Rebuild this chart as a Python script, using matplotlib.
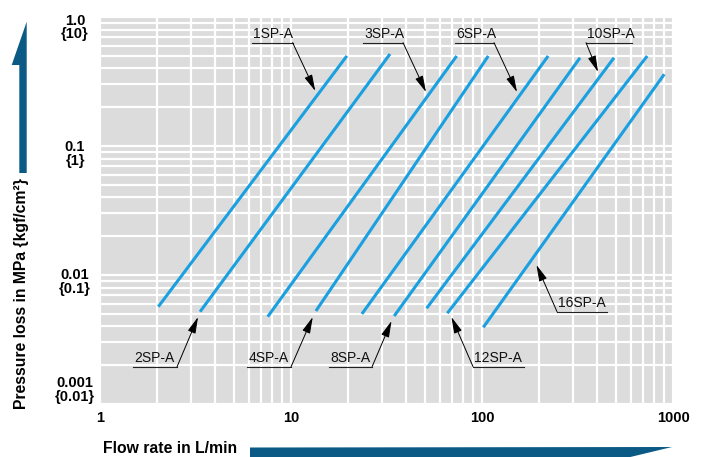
import matplotlib
matplotlib.use("Agg")
import matplotlib.pyplot as plt
from matplotlib.patches import Polygon

plt.rcParams["font.family"] = ["Liberation Sans", "DejaVu Sans"]

# strainer models, pressure loss lines (flow rate L/min vs pressure loss MPa)
models = ["1SP-A", "2SP-A", "3SP-A", "4SP-A", "6SP-A", "8SP-A", "10SP-A", "12SP-A", "16SP-A"]
q_min = [2.02, 3.34, 7.55, 13.5, 23.5, 34.7, 51.3, 65.8, 101.6]
q_max = [19.6, 33.0, 73.7, 107.9, 222, 326, 491, 733, 900]
p_min = [0.00568, 0.00519, 0.00475, 0.00526, 0.00499, 0.00481, 0.00552, 0.00505, 0.00393]
p_max = [0.499, 0.517, 0.499, 0.499, 0.499, 0.483, 0.483, 0.499, 0.36]

# callout labels: underline (leader end / far end), height, arrow tip on the line
label_lead_q = [10.2, 2.53, 38.6, 10.0, 115.6, 26.6, 350.5, 89.7, 247]
label_far_q = [6.25, 1.49, 23.8, 5.89, 72.2, 15.8, 610, 166, 451]
label_p = [0.632, 0.00194, 0.632, 0.00194, 0.632, 0.00195, 0.632, 0.00195, 0.0052]
tip_q = [13.4, 3.26, 50.9, 13.0, 152.5, 33.6, 405, 69.2, 192.8]
tip_p = [0.267, 0.00472, 0.262, 0.00472, 0.262, 0.0044, 0.375, 0.00472, 0.01196]

x_ticks = [1, 10, 100, 1000]
x_tick_labels = ["1", "10", "100", "1000"]
y_ticks = [1.0, 0.1, 0.01, 0.001]
y_tick_labels = ["1.0\n{10}", "0.1\n{1}", "0.01\n{0.1}", "0.001\n{0.01}"]
y_label_dy = [-7.6, -5.8, -5.0, 10.0]  # points, label placement tweaks

W, H = 702, 457
fig = plt.figure(figsize=(W / 100, H / 100), dpi=100)
ax = fig.add_axes([100 / W, 1 - 404 / H, 573 / W, 387 / H])
ax.set_xscale("log")
ax.set_yscale("log")
ax.set_xlim(1, 1000)
ax.set_ylim(0.001, 1.0)
ax.set_facecolor("#dcdcdc")
for s in ax.spines.values():
    s.set_visible(False)
ax.set_axisbelow(True)
ax.grid(True, which="both", color="white", linewidth=1.6)

ax.set_xticks(x_ticks)
ax.set_xticklabels(x_tick_labels, fontweight="bold", fontsize=10.5)
ax.xaxis.set_minor_formatter(matplotlib.ticker.NullFormatter())
ax.tick_params(axis="x", which="both", length=0, pad=5)
ax.tick_params(axis="y", which="both", length=0, labelleft=False)

for val, txt, dy in zip(y_ticks, y_tick_labels, y_label_dy):
    ax.annotate(txt, xy=(0, val), xycoords=("axes fraction", "data"),
                xytext=(-18, dy), textcoords="offset points",
                ha="center", va="center", multialignment="center",
                fontweight="bold", fontsize=10.5, linespacing=0.95)

for i in range(len(models)):
    ax.plot([q_min[i], q_max[i]], [p_min[i], p_max[i]], color="#1aa0e0",
            linewidth=2.2, solid_capstyle="butt", zorder=3)

for i, name in enumerate(models):
    left = min(label_lead_q[i], label_far_q[i])
    right = max(label_lead_q[i], label_far_q[i])
    ax.plot([left, right], [label_p[i], label_p[i]], color="#222222",
            linewidth=0.8, zorder=4)
    ax.annotate(name, xy=(left, label_p[i]), xytext=(0.8, 3.2),
                textcoords="offset points", ha="left", va="baseline",
                fontsize=10, color="#111111")
    ax.annotate("", xy=(tip_q[i], tip_p[i]), xytext=(label_lead_q[i], label_p[i]),
                arrowprops=dict(arrowstyle="-|>,head_length=1.0,head_width=0.25",
                                color="black", lw=0.7, shrinkA=0, shrinkB=0,
                                mutation_scale=10), zorder=5)

# axis titles with the big arrows
arrow_color = "#0b5a85"
v_arrow = [(19.3, 173), (19.3, 65), (11.7, 65), (26.7, 21.7), (26.7, 173)]
h_arrow = [(250, 447.5), (672, 447), (622, 459), (250, 459)]
for pts in (v_arrow, h_arrow):
    fig.patches.append(Polygon([(x / W, 1 - y / H) for x, y in pts], closed=True,
                               transform=fig.transFigure, facecolor=arrow_color,
                               edgecolor="none"))

fig.text(22 / W, 1 - 294 / H, "Pressure loss in MPa {kgf/cm\u00b2}", rotation=90,
         ha="center", va="center", fontweight="bold", fontsize=11.3)
fig.text(103 / W, 1 - 456 / H, "Flow rate in L/min", ha="left", va="bottom",
         fontweight="bold", fontsize=11.3)

fig.savefig("out.png", dpi=100)
